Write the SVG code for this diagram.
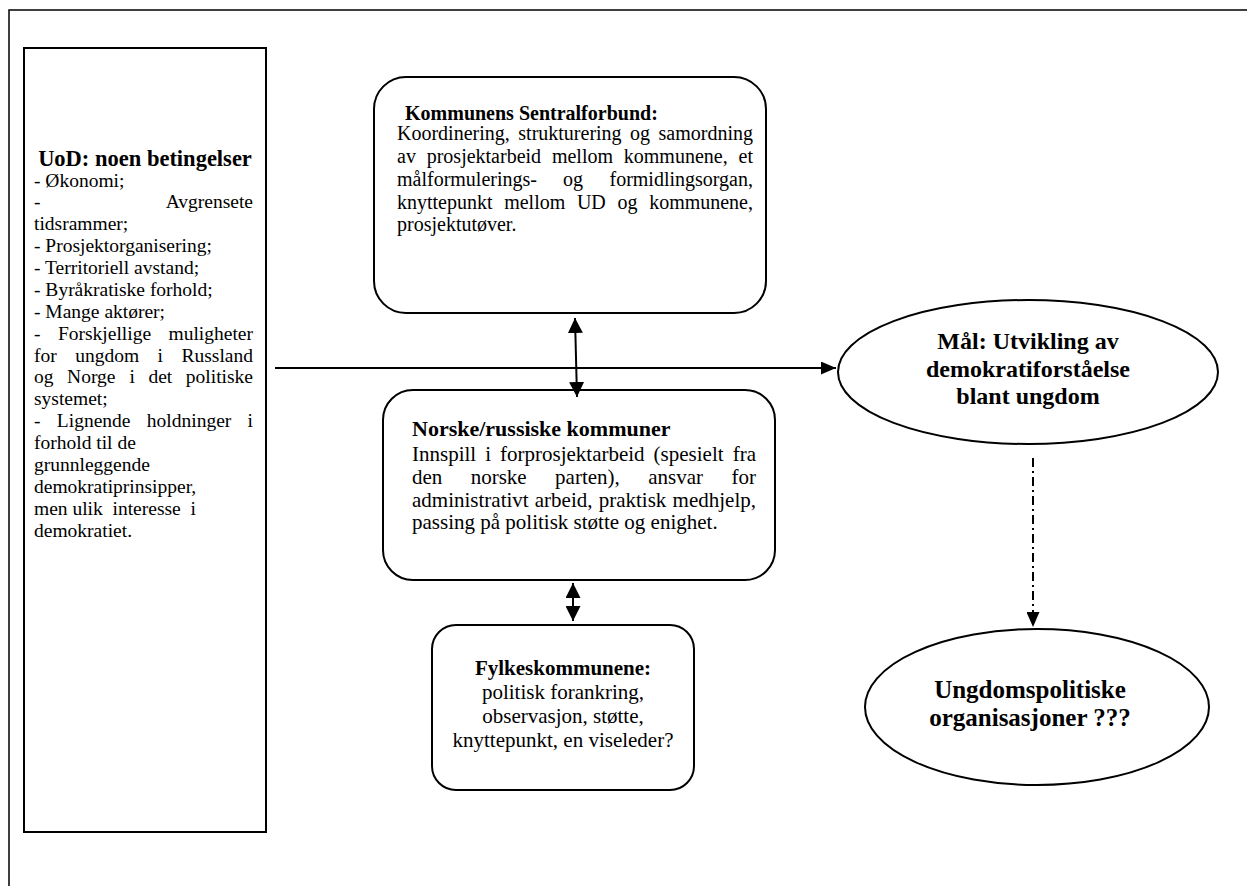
<svg xmlns="http://www.w3.org/2000/svg" width="1247" height="886" viewBox="0 0 1247 886">
<defs>
<style>
.box{fill:#fff;stroke:#000;stroke-width:2}
.f{font-family:"Liberation Serif","Times New Roman",serif;fill:#000}
.lt{font-size:19.5px}
.tb{font-size:20px}
.mb{font-size:21px}
.e{font-size:24px;font-weight:bold;text-anchor:middle}
.c{stroke:#000;stroke-width:2;fill:none}
</style>
<marker id="ah" markerUnits="userSpaceOnUse" markerWidth="15" markerHeight="15" viewBox="0 0 15 15" refX="15" refY="7.5" orient="auto-start-reverse">
<path d="M0,0 L15,7.5 L0,15 Z" fill="#000"/>
</marker>
<marker id="ahs" markerUnits="userSpaceOnUse" markerWidth="15" markerHeight="13" viewBox="0 0 15 13" refX="15" refY="6.5" orient="auto">
<path d="M0,0 L15,6.5 L0,13 Z" fill="#000"/>
</marker>
</defs>
<rect x="0" y="0" width="1247" height="886" fill="#fff"/>
<rect x="9" y="10" width="1260" height="900" fill="none" stroke="#000" stroke-width="1.5"/>

<g id="conditions" class="f lt">
<rect class="box" x="24" y="48" width="242" height="784"/>
<text x="145" y="165.5" font-size="22.5" font-weight="bold" text-anchor="middle">UoD: noen betingelser</text>
<text x="34" y="186.5">- Økonomi;</text>
<text y="208.4"><tspan x="34">-</tspan><tspan x="253" text-anchor="end">Avgrensete</tspan></text>
<text x="34" y="230.3">tidsrammer;</text>
<text x="34" y="252.1">- Prosjektorganisering;</text>
<text x="34" y="274">- Territoriell avstand;</text>
<text x="34" y="295.9">- Byråkratiske forhold;</text>
<text x="34" y="317.8">- Mange aktører;</text>
<text y="339.6"><tspan x="34">-</tspan><tspan x="57.9">Forskjellige</tspan><tspan x="253" text-anchor="end">muligheter</tspan></text>
<text y="361.5"><tspan x="34">for</tspan><tspan x="75.2">ungdom</tspan><tspan x="157.6">i</tspan><tspan x="253" text-anchor="end">Russland</tspan></text>
<text y="383.4"><tspan x="34">og</tspan><tspan x="67.1">Norge</tspan><tspan x="129.4">i</tspan><tspan x="148.4">det</tspan><tspan x="253" text-anchor="end">politiske</tspan></text>
<text x="34" y="405.3">systemet;</text>
<text y="427.1"><tspan x="34">-</tspan><tspan x="56.8">Lignende</tspan><tspan x="146.8">holdninger</tspan><tspan x="253" text-anchor="end">i</tspan></text>
<text x="34" y="449">forhold til de</text>
<text x="34" y="470.9">grunnleggende</text>
<text x="34" y="492.8">demokratiprinsipper,</text>
<text y="514.6"><tspan x="34">men ulik</tspan><tspan x="112.5">interesse</tspan><tspan x="190.5">i</tspan></text>
<text x="34" y="536.5">demokratiet.</text>
</g>

<g id="ks" class="f tb">
<rect class="box" x="374" y="77" width="392" height="236" rx="32"/>
<text x="405" y="120" font-weight="bold">Kommunens Sentralforbund:</text>
<text y="140"><tspan x="397">Koordinering,</tspan><tspan x="518.3">strukturering</tspan><tspan x="630.1">og</tspan><tspan x="753" text-anchor="end">samordning</tspan></text>
<text y="163"><tspan x="397">av</tspan><tspan x="426.7">prosjektarbeid</tspan><tspan x="551.9">mellom</tspan><tspan x="623.8">kommunene,</tspan><tspan x="753" text-anchor="end">et</tspan></text>
<text y="186"><tspan x="397">målformulerings-</tspan><tspan x="563">og</tspan><tspan x="753" text-anchor="end">formidlingsorgan,</tspan></text>
<text y="209"><tspan x="397">knyttepunkt</tspan><tspan x="504.2">mellom</tspan><tspan x="576.9">UD</tspan><tspan x="617.4">og</tspan><tspan x="753" text-anchor="end">kommunene,</tspan></text>
<text x="397" y="231">prosjektutøver.</text>
</g>

<g id="kommuner" class="f mb">
<rect class="box" x="383" y="390" width="392" height="190" rx="30"/>
<text x="412" y="435.5" font-size="22" font-weight="bold">Norske/russiske kommuner</text>
<text y="461"><tspan x="412">Innspill</tspan><tspan x="485.2">i</tspan><tspan x="500">forprosjektarbeid</tspan><tspan x="653.6">(spesielt</tspan><tspan x="756" text-anchor="end">fra</tspan></text>
<text y="484"><tspan x="412">den</tspan><tspan x="470.7">norske</tspan><tspan x="555.1">parten),</tspan><tspan x="648.2">ansvar</tspan><tspan x="756" text-anchor="end">for</tspan></text>
<text y="507"><tspan x="412">administrativt</tspan><tspan x="534.8">arbeid,</tspan><tspan x="598.7">praktisk</tspan><tspan x="756" text-anchor="end">medhjelp,</tspan></text>
<text x="412" y="529">passing på politisk støtte og enighet.</text>
</g>

<g id="fylke" class="f mb" text-anchor="middle">
<rect class="box" x="432" y="625" width="262" height="165" rx="24"/>
<text x="563" y="675" font-weight="bold">Fylkeskommunene:</text>
<text x="563" y="699">politisk forankring,</text>
<text x="563" y="723">observasjon, støtte,</text>
<text x="563" y="747">knyttepunkt, en viseleder?</text>
</g>

<g id="maal" class="f e">
<ellipse class="box" cx="1028" cy="372" rx="190" ry="72"/>
<text x="1028" y="348.5">Mål: Utvikling av</text>
<text x="1028" y="376.5">demokratiforståelse</text>
<text x="1028" y="403.5">blant ungdom</text>
</g>

<g id="ungdom" class="f e">
<ellipse class="box" cx="1037" cy="707" rx="172" ry="78"/>
<text x="1030" y="698" font-size="25">Ungdomspolitiske</text>
<text x="1030" y="726" font-size="25">organisasjoner ???</text>
</g>

<g id="connectors">
<line class="c" x1="275" y1="368" x2="836" y2="368" marker-end="url(#ahs)"/>
<line class="c" x1="575" y1="318" x2="577" y2="397" marker-start="url(#ah)" marker-end="url(#ah)"/>
<line class="c" x1="573" y1="583" x2="573" y2="621" marker-start="url(#ah)" marker-end="url(#ah)"/>
<line class="c" x1="1033" y1="458" x2="1033" y2="627" stroke-dasharray="9 4 2 4" marker-end="url(#ahs)"/>
</g>
</svg>
